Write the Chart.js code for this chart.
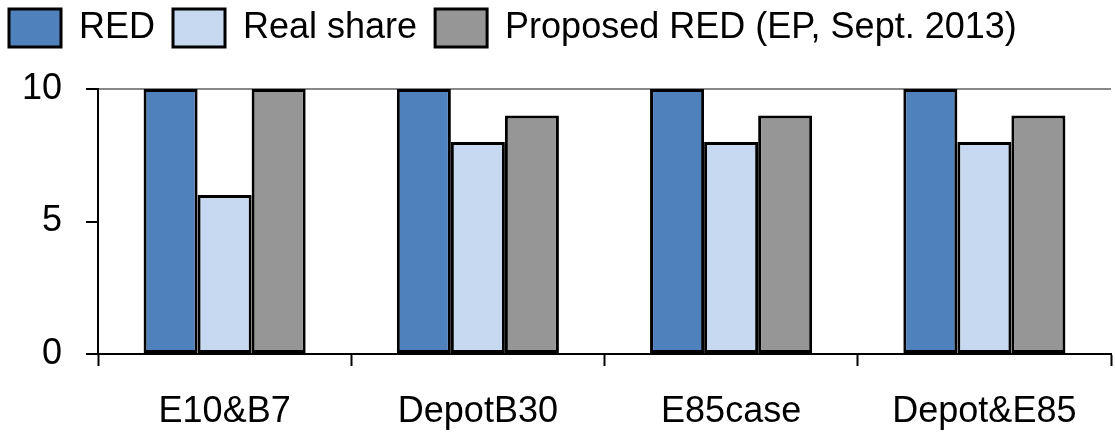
<!DOCTYPE html>
<html>
<head>
<meta charset="utf-8">
<script src="https://cdn.jsdelivr.net/npm/chart.js@4.4.0/dist/chart.umd.min.js"></script>
<style>
  html, body { margin: 0; padding: 0; background: #fff; }
  #wrap { width: 1115px; height: 432px; }
</style>
</head>
<body>
<div id="wrap"><canvas id="barChart"></canvas></div>
<script>
// Chart data
const categories = ['E10&B7', 'DepotB30', 'E85case', 'Depot&E85'];
const redValues = [10, 10, 10, 10];
const realShareValues = [6, 8, 8, 8];
const proposedValues = [10, 9, 9, 9];
const yTicks = [0, 5, 10];

const FONT = 'Liberation Sans, Arial, sans-serif';

// Make the legend take the whole band above the plot
const legendHeight = {
    id: 'legendHeight',
    beforeInit(chart) {
        const fit = chart.legend.fit;
        chart.legend.fit = function() {
            fit.bind(chart.legend)();
            this.height = 89;
        };
    },
    afterLayout(chart) {
        // nudge the legend up/left to sit like the original
        chart.legend.left = -9;
        chart.legend.top = -9;
    }
};

const ctx = document.getElementById('barChart').getContext('2d');
new Chart(ctx, {
    type: 'bar',
    data: {
        labels: categories,
        datasets: [
            { label: 'RED', data: redValues, backgroundColor: '#4F81BD' },
            { label: 'Real share', data: realShareValues, backgroundColor: '#C6D9F1' },
            { label: 'Proposed RED (EP, Sept. 2013)', data: proposedValues, backgroundColor: '#969696' },
        ].map(d => Object.assign(d, {
            borderColor: '#000',
            borderWidth: 3,
            borderSkipped: false,
            categoryPercentage: 0.64,
            barPercentage: 1.0,
        })),
    },
    options: {
        responsive: true,
        maintainAspectRatio: false,
        animation: false,
        layout: { padding: { left: 0, right: 4, top: 0, bottom: 0 } },
        plugins: {
            legend: {
                position: 'top',
                align: 'start',
                labels: {
                    boxWidth: 52,
                    boxHeight: 38,
                    padding: 18,
                    color: '#000',
                    font: { size: 36, family: FONT },
                },
            },
            tooltip: { enabled: false },
        },
        scales: {
            x: {
                grid: {
                    offset: true,
                    drawOnChartArea: false,
                    drawTicks: true,
                    tickLength: 12,
                    tickColor: '#000',
                    tickWidth: 2,
                },
                border: { color: '#000', width: 2 },
                ticks: {
                    color: '#000',
                    padding: 24,
                    font: { size: 36, family: FONT },
                },
                afterFit: function(scale) {
                    scale.height = 78;
                },
            },
            y: {
                min: 0,
                max: 10,
                afterBuildTicks: function(scale) {
                    scale.ticks = yTicks.map(v => ({ value: v }));
                },
                grid: {
                    color: function(c) {
                        return c.tick && c.tick.value === 10 ? '#888' : 'rgba(0,0,0,0)';
                    },
                    lineWidth: 2,
                    drawTicks: true,
                    tickLength: 12,
                    tickColor: '#000',
                    tickWidth: 2,
                },
                border: { color: '#000', width: 2 },
                ticks: {
                    color: '#000',
                    padding: 24,
                    font: { size: 36, family: FONT },
                },
                afterFit: function(scale) {
                    scale.width = 98;
                },
            },
        },
    },
    plugins: [legendHeight],
});
</script>
</body>
</html>
